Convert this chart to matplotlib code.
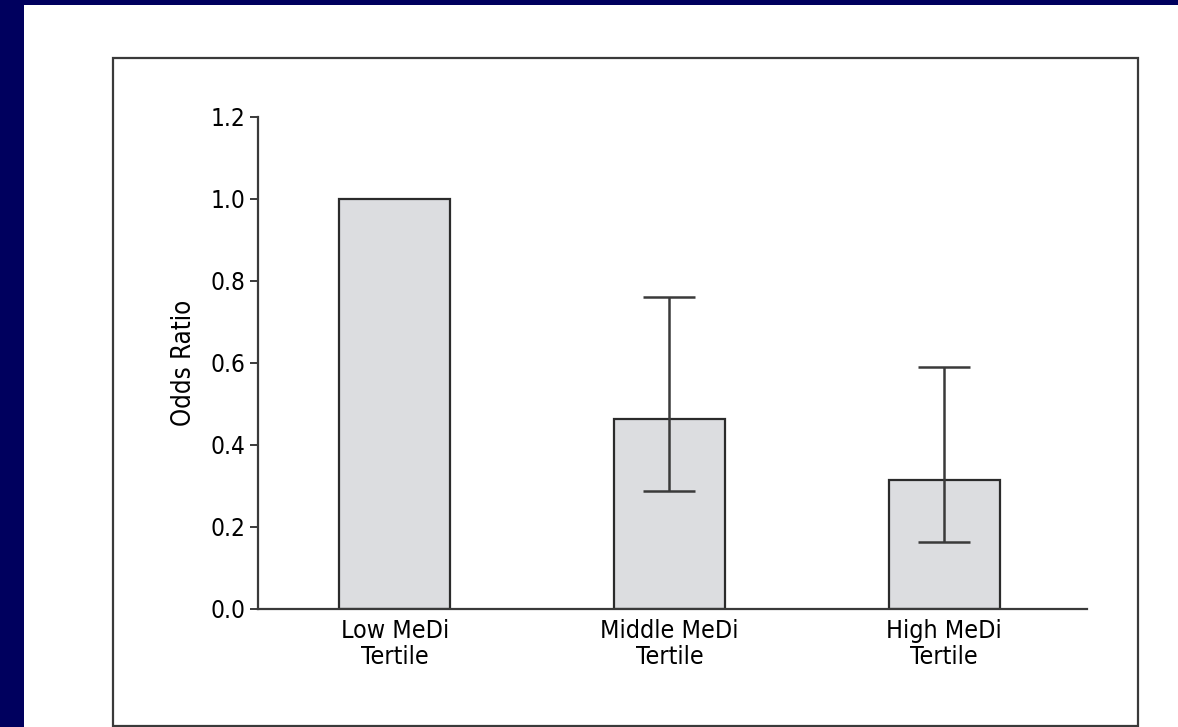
import matplotlib.pyplot as plt
from matplotlib.patches import Rectangle

categories = ["Low MeDi\nTertile", "Middle MeDi\nTertile", "High MeDi\nTertile"]
odds_ratio = [1.0, 0.463, 0.315]
ci_low = [None, 0.288, 0.163]
ci_high = [None, 0.762, 0.590]
yticks = [0.0, 0.2, 0.4, 0.6, 0.8, 1.0, 1.2]

plt.rcParams['font.family'] = ['DejaVu Sans']
plt.rcParams['font.stretch'] = 'condensed'

W, H = 1178, 727
fig = plt.figure(figsize=(W / 100, H / 100), dpi=100)
fig.patch.set_facecolor("#00005e")

# white slide area and the framed box
fig.patches.append(Rectangle((24 / W, 0), 1 - 24 / W, 1 - 5 / H, transform=fig.transFigure,
                             facecolor="white", edgecolor="none", zorder=0))
fig.patches.append(Rectangle((113 / W, 1 - 726 / H), (1138 - 113) / W, (726 - 58) / H,
                             transform=fig.transFigure, facecolor="none",
                             edgecolor="#3a3a3a", linewidth=1.6, zorder=1))

ax = fig.add_axes([258 / W, 1 - 609 / H, (1087 - 258) / W, (609 - 117) / H])
ax.set_zorder(5)
ax.set_facecolor("none")

x = list(range(len(categories)))
ax.bar(x, odds_ratio, width=0.405, color="#dcdde0", edgecolor="#2b2b2b", linewidth=1.6, zorder=2)

for xi, v, lo, hi in zip(x, odds_ratio, ci_low, ci_high):
    if lo is None:
        continue
    ax.errorbar(xi, v, yerr=[[v - lo], [hi - v]], fmt="none", ecolor="#3a3a3a",
                elinewidth=1.8, capsize=19, capthick=1.8, zorder=3)

ax.set_xlim(-0.498, 2.52)
ax.set_ylim(0, 1.2)
ax.set_yticks(yticks)
ax.set_yticklabels([f"{t:.1f}" for t in yticks])
ax.set_xticks(x)
ax.set_xticklabels(categories, linespacing=1.1)
ax.tick_params(axis="x", length=0, labelsize=18, pad=7)
ax.tick_params(axis="y", length=6, width=1.4, labelsize=17.5, pad=3, color="#3a3a3a")
for s in ["top", "right"]:
    ax.spines[s].set_visible(False)
for s in ["left", "bottom"]:
    ax.spines[s].set_linewidth(1.6)
    ax.spines[s].set_color("#3a3a3a")
ax.set_ylabel("Odds Ratio", fontsize=18.5, labelpad=10)

fig.savefig("out.png", dpi=100, facecolor=fig.get_facecolor())
